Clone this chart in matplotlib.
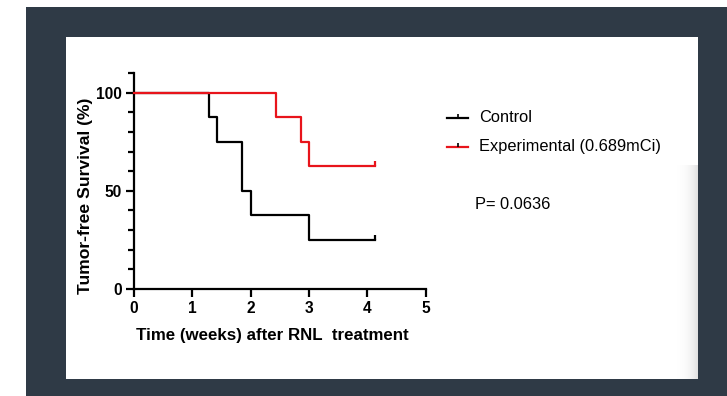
import matplotlib
matplotlib.use("Agg")
import matplotlib.pyplot as plt
from matplotlib.patches import Rectangle
from matplotlib.lines import Line2D
from matplotlib.ticker import MultipleLocator
import numpy as np

plt.rcParams['font.family'] = ['Liberation Sans', 'DejaVu Sans']

# step survival data (weeks, % tumor-free)
control_t = [0, 1.28, 1.42, 1.85, 2.0, 3.0, 4.13]
control_s = [100, 87.5, 75, 50, 37.5, 25, 25]
exp_t = [0, 2.44, 2.86, 3.0, 4.13]
exp_s = [100, 87.5, 75, 62.5, 62.5]

series_names = ['Control', 'Experimental (0.689mCi)']
series_colors = ['black', '#e8141b']
p_text = 'P= 0.0636'
x_ticks = [0, 1, 2, 3, 4, 5]
y_ticks = [0, 50, 100]

W, H = 727, 396
fig = plt.figure(figsize=(W / 100, H / 100), dpi=100)
fig.patch.set_facecolor('white')

def fx(px):
    return px / W

def fy(py):
    return 1 - py / H

# dark frame + white card like the screenshot
fig.add_artist(Rectangle((fx(26), 0), 1 - fx(26), fy(7), transform=fig.transFigure,
                         facecolor='#2f3a46', edgecolor='none', zorder=-3))
fig.add_artist(Rectangle((fx(66), fy(379)), fx(698 - 66), (379 - 37) / H,
                         transform=fig.transFigure, facecolor='white', edgecolor='none', zorder=-2))
# soft shadow on right edge of the card
for i in range(28):
    a = (i / 28) ** 3 * 0.13
    fig.add_artist(Rectangle((fx(670 + i), fy(379)), fx(1), (379 - 165) / H,
                             transform=fig.transFigure, facecolor='black', alpha=a,
                             edgecolor='none', zorder=-1))

ax = fig.add_axes([fx(134), fy(289), fx(425.7 - 134), (289 - 73) / H])
ax.set_facecolor('none')

for t, s, c in [(control_t, control_s, series_colors[0]), (exp_t, exp_s, series_colors[1])]:
    ax.step(t, s, where='post', color=c, lw=1.6, clip_on=False, zorder=3)
    ax.plot(t[-1], s[-1], marker=2, color=c, ms=3.5, mew=1.6, clip_on=False, zorder=3)

ax.set_xlim(0, 5)
ax.set_ylim(0, 110)
ax.set_xticks(x_ticks)
ax.set_yticks(y_ticks)
ax.yaxis.set_minor_locator(MultipleLocator(10))
for sp in ['top', 'right']:
    ax.spines[sp].set_visible(False)
for sp in ['left', 'bottom']:
    ax.spines[sp].set_linewidth(1.6)
ax.tick_params(axis='both', which='major', width=1.6, length=6, labelsize=11.2, pad=2.5)
ax.tick_params(axis='y', which='minor', width=1.6, length=4)
for lab in ax.get_xticklabels() + ax.get_yticklabels():
    lab.set_fontweight('bold')

ax.set_xlabel('Time (weeks) after RNL  treatment', fontsize=12.2, fontweight='bold')
ax.set_ylabel('Tumor-free Survival (%)', fontsize=12.6, fontweight='bold')
ax.xaxis.set_label_coords(0.475, -0.18)
ax.yaxis.set_label_coords(-0.14, 0.43)

# legend drawn by hand to match the placement
for name, c, py in zip(series_names, series_colors, [118, 147]):
    fig.add_artist(Line2D([fx(447), fx(468)], [fy(py), fy(py)], color=c, lw=1.6,
                          transform=fig.transFigure))
    fig.add_artist(Line2D([fx(457.5)], [fy(py)], color='black', marker=2, ms=3, mew=1.2,
                          transform=fig.transFigure))
    fig.text(fx(479), fy(py), name, fontsize=11.8, va='center', ha='left')

fig.text(fx(475), fy(205), p_text, fontsize=11.8, va='center', ha='left')

fig.savefig('out.png', dpi=100)
